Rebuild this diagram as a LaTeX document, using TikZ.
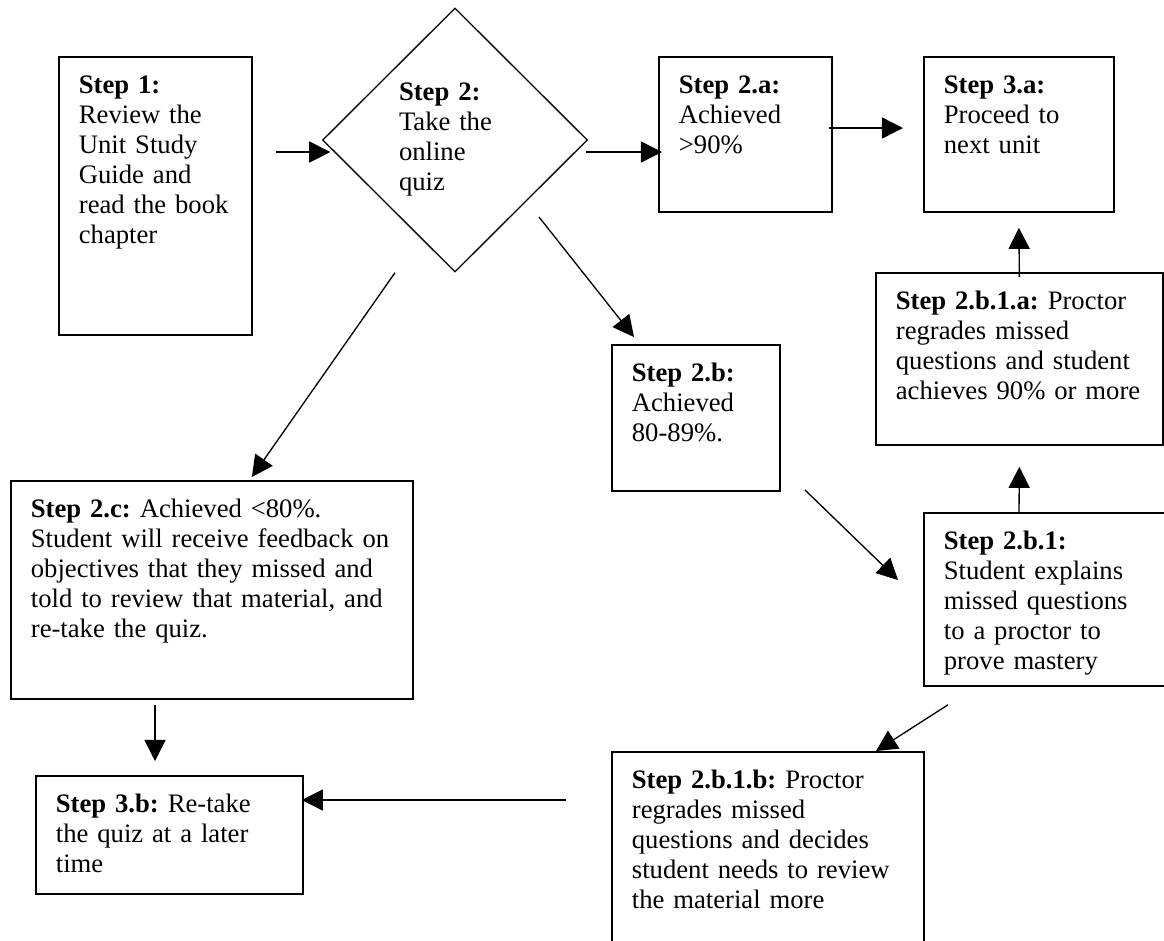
\documentclass[tikz,border=0pt]{standalone}
\usepackage{fontspec}
\setmainfont{Liberation Serif}
\usepackage{tikz}
\usetikzlibrary{
	arrows.meta,
	shapes.geometric,
	}

\tikzset{
	stepbox/.style={draw, line width=0.8pt, anchor=north west, align=left,
		inner xsep=9pt, inner ysep=0pt, text height=16.5pt,
		font=\fontsize{12}{13.5}\selectfont\frenchspacing},
	decision/.style={diamond, draw, line width=0.6pt, inner sep=0pt,
		minimum width=119.25pt, minimum height=118.8pt, text width=50.4pt,
		align=left, font=\fontsize{12}{13.5}\selectfont\frenchspacing},
	flow/.style={-{Triangle[length=9.5pt,width=9.5pt]}, line width=0.6pt},
}

\begin{document}
\begin{tikzpicture}[x=0.45pt, y=-0.45pt]
		\clip (0,0) rectangle (1164,940);
		% boxes
		\node[stepbox, text width=68.85pt, text depth=108.6pt] (step1) at (58,56)
			{\textbf{Step 1:}\\Review the\\Unit Study\\Guide and\\read the book\\chapter};
		\node[decision] (step2) at (455,140)
			{\textbf{Step 2:}\\Take the\\online\\quiz};
		\node[stepbox, text width=59.85pt, text depth=53.25pt] (step2a) at (658,56)
			{\textbf{Step 2.a:}\\Achieved\\>90\%};
		\node[stepbox, text width=67.5pt, text depth=53.25pt] (step3a) at (923,56)
			{\textbf{Step 3.a:}\\Proceed to\\next unit};
		\node[stepbox, text width=111.15pt, text depth=60.9pt] (step2b1a) at (875,272)
			{\textbf{Step 2.b.1.a:} Proctor\\regrades missed\\questions and student\\achieves 90\% or more};
		\node[stepbox, text width=57.6pt, text depth=49.2pt] (step2b) at (611,344)
			{\textbf{Step 2.b:}\\Achieved\\80-89\%.};
		\node[stepbox, text width=162.9pt, text depth=81.6pt] (step2c) at (10,480)
			{\textbf{Step 2.c:} Achieved <80\%.\\Student will receive feedback on\\objectives that they missed and\\told to review that material, and\\re-take the quiz.};
		\node[stepbox, text width=95.4pt, text depth=61.35pt] (step2b1) at (923,512)
			{\textbf{Step 2.b.1:}\\Student explains\\missed questions\\to a proctor to\\prove mastery};
		\node[stepbox, text width=122.4pt, text depth=77.55pt] (step2b1b) at (611,751)
			{\textbf{Step 2.b.1.b:} Proctor\\regrades missed\\questions and decides\\student needs to review\\the material more};
		\node[stepbox, text width=102.15pt, text depth=36.6pt] (step3b) at (35,775)
			{\textbf{Step 3.b:} Re-take\\the quiz at a later\\time};
		% arrows
		\draw[flow] ([shift={(23,96)}]step1.north east) -- ([shift={(8.5,12)}]step2.west);
		\draw[flow] ([shift={(-2,12)}]step2.east) -- ([shift={(4,96)}]step2a.north west);
		\draw[flow] ([shift={(-4,72)}]step2a.north east) -- ([shift={(-20,72)}]step3a.north west);
		\draw[flow] ([shift={(0,5)}]step2b1a.north) -- ([shift={(0,15)}]step3a.south);
		\draw[flow] ([shift={(96,0)}]step2b1.north west) -- ([shift={(0,21)}]step2b1a.south);
		\draw[flow] ([shift={(84,77)}]step2.center) -- ([shift={(23,-7)}]step2b.north west);
		\draw[flow] ([shift={(-60,0)}]step2.south) -- ([shift={(40,-3)}]step2c.north);
		\draw[flow] ([shift={(145,5)}]step2c.south west) -- ([shift={(120,-14)}]step3b.north west);
		\draw[flow] ([shift={(24,-2)}]step2b.south east) -- ([shift={(-25,68)}]step2b1.north west);
		\draw[flow] ([shift={(25,18)}]step2b1.south west) -- ([shift={(265,0)}]step2b1b.north west);
		\draw[flow] ([shift={(-45,49)}]step2b1b.north west) -- ([shift={(-2,25)}]step3b.north east);
	\end{tikzpicture}
\end{document}
